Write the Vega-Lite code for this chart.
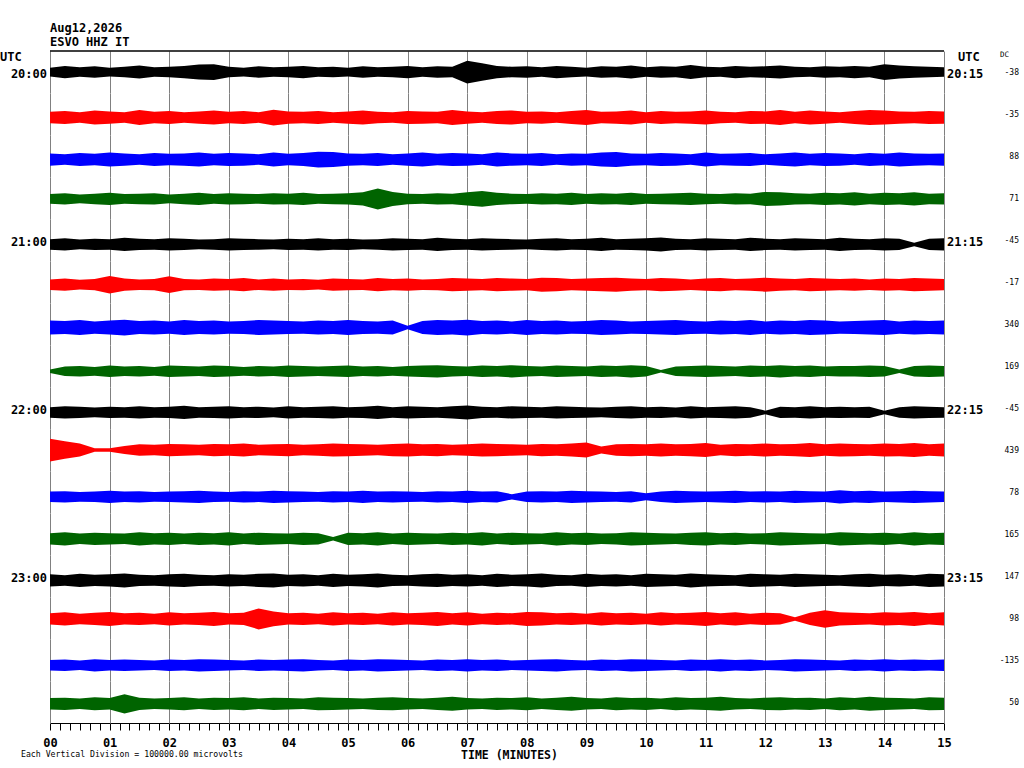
{
  "$schema": "https://vega.github.io/schema/vega-lite/v6.json",
  "padding": {"left": 0, "right": 4, "top": 22, "bottom": 0},
  "background": "white",
  "bounds": "flush",
  "title": {
    "text": "Aug12,2026",
    "subtitle": "ESVO HHZ IT",
    "anchor": "start",
    "dx": 50,
    "offset": 1,
    "font": "DejaVu Sans Mono",
    "fontSize": 12,
    "fontWeight": "bold",
    "color": "black",
    "subtitleFont": "DejaVu Sans Mono",
    "subtitleFontSize": 12,
    "subtitleFontWeight": "bold",
    "subtitleColor": "black",
    "subtitlePadding": 2
  },
  "data": {
    "values": [
      {"k":0,"l":"20:00","r":"20:15","d":"-38","u":"UTC"},
      {"k":1,"d":"-35"},{"k":2,"d":"88"},{"k":3,"d":"71"},
      {"k":4,"l":"21:00","r":"21:15","d":"-45"},{"k":5,"d":"-17"},{"k":6,"d":"340"},{"k":7,"d":"169"},
      {"k":8,"l":"22:00","r":"22:15","d":"-45"},{"k":9,"d":"439"},{"k":10,"d":"78"},{"k":11,"d":"165"},
      {"k":12,"l":"23:00","r":"23:15","d":"147"},{"k":13,"d":"98"},{"k":14,"d":"-135"},
      {"k":15,"d":"50","e":"Each Vertical Division = 100000.00 microvolts"},
      {"k":0,"t":0,"v":10},{"k":0,"t":15,"v":14},{"k":0,"t":30,"v":11},{"k":0,"t":45,"v":13},{"k":0,"t":60,"v":10},{"k":0,"t":75,"v":12},{"k":0,"t":90,"v":15},{"k":0,"t":105,"v":11},{"k":0,"t":120,"v":12},{"k":0,"t":135,"v":14},{"k":0,"t":150,"v":17},{"k":0,"t":165,"v":18},{"k":0,"t":180,"v":12},{"k":0,"t":195,"v":10},{"k":0,"t":210,"v":13},{"k":0,"t":225,"v":11},{"k":0,"t":240,"v":12},{"k":0,"t":255,"v":14},{"k":0,"t":270,"v":11},{"k":0,"t":285,"v":12},{"k":0,"t":300,"v":10},{"k":0,"t":315,"v":13},{"k":0,"t":330,"v":11},{"k":0,"t":345,"v":12},{"k":0,"t":360,"v":14},{"k":0,"t":375,"v":11},{"k":0,"t":390,"v":13},{"k":0,"t":405,"v":12},{"k":0,"t":420,"v":26},{"k":0,"t":435,"v":20},{"k":0,"t":450,"v":14},{"k":0,"t":465,"v":12},{"k":0,"t":480,"v":13},{"k":0,"t":495,"v":11},{"k":0,"t":510,"v":14},{"k":0,"t":525,"v":12},{"k":0,"t":540,"v":10},{"k":0,"t":555,"v":13},{"k":0,"t":570,"v":12},{"k":0,"t":585,"v":15},{"k":0,"t":600,"v":11},{"k":0,"t":615,"v":13},{"k":0,"t":630,"v":12},{"k":0,"t":645,"v":16},{"k":0,"t":660,"v":12},{"k":0,"t":675,"v":11},{"k":0,"t":690,"v":14},{"k":0,"t":705,"v":12},{"k":0,"t":720,"v":13},{"k":0,"t":735,"v":15},{"k":0,"t":750,"v":12},{"k":0,"t":765,"v":11},{"k":0,"t":780,"v":13},{"k":0,"t":795,"v":12},{"k":0,"t":810,"v":14},{"k":0,"t":825,"v":12},{"k":0,"t":840,"v":18},{"k":0,"t":855,"v":15},{"k":0,"t":870,"v":13},{"k":0,"t":885,"v":12},{"k":0,"t":900,"v":11},
      {"k":1,"t":0,"v":13},{"k":1,"t":15,"v":15},{"k":1,"t":30,"v":12},{"k":1,"t":45,"v":16},{"k":1,"t":60,"v":14},{"k":1,"t":75,"v":12},{"k":1,"t":90,"v":17},{"k":1,"t":105,"v":13},{"k":1,"t":120,"v":15},{"k":1,"t":135,"v":12},{"k":1,"t":150,"v":14},{"k":1,"t":165,"v":16},{"k":1,"t":180,"v":13},{"k":1,"t":195,"v":15},{"k":1,"t":210,"v":12},{"k":1,"t":225,"v":18},{"k":1,"t":240,"v":14},{"k":1,"t":255,"v":13},{"k":1,"t":270,"v":15},{"k":1,"t":285,"v":12},{"k":1,"t":300,"v":14},{"k":1,"t":315,"v":16},{"k":1,"t":330,"v":13},{"k":1,"t":345,"v":12},{"k":1,"t":360,"v":15},{"k":1,"t":375,"v":14},{"k":1,"t":390,"v":13},{"k":1,"t":405,"v":17},{"k":1,"t":420,"v":14},{"k":1,"t":435,"v":12},{"k":1,"t":450,"v":15},{"k":1,"t":465,"v":16},{"k":1,"t":480,"v":13},{"k":1,"t":495,"v":14},{"k":1,"t":510,"v":12},{"k":1,"t":525,"v":15},{"k":1,"t":540,"v":17},{"k":1,"t":555,"v":13},{"k":1,"t":570,"v":14},{"k":1,"t":585,"v":16},{"k":1,"t":600,"v":12},{"k":1,"t":615,"v":15},{"k":1,"t":630,"v":13},{"k":1,"t":645,"v":14},{"k":1,"t":660,"v":16},{"k":1,"t":675,"v":13},{"k":1,"t":690,"v":12},{"k":1,"t":705,"v":15},{"k":1,"t":720,"v":14},{"k":1,"t":735,"v":17},{"k":1,"t":750,"v":13},{"k":1,"t":765,"v":16},{"k":1,"t":780,"v":14},{"k":1,"t":795,"v":12},{"k":1,"t":810,"v":15},{"k":1,"t":825,"v":17},{"k":1,"t":840,"v":16},{"k":1,"t":855,"v":14},{"k":1,"t":870,"v":13},{"k":1,"t":885,"v":15},{"k":1,"t":900,"v":14},
      {"k":2,"t":0,"v":14},{"k":2,"t":15,"v":12},{"k":2,"t":30,"v":15},{"k":2,"t":45,"v":13},{"k":2,"t":60,"v":16},{"k":2,"t":75,"v":14},{"k":2,"t":90,"v":12},{"k":2,"t":105,"v":15},{"k":2,"t":120,"v":13},{"k":2,"t":135,"v":14},{"k":2,"t":150,"v":16},{"k":2,"t":165,"v":13},{"k":2,"t":180,"v":15},{"k":2,"t":195,"v":14},{"k":2,"t":210,"v":12},{"k":2,"t":225,"v":16},{"k":2,"t":240,"v":13},{"k":2,"t":255,"v":15},{"k":2,"t":270,"v":18},{"k":2,"t":285,"v":17},{"k":2,"t":300,"v":14},{"k":2,"t":315,"v":13},{"k":2,"t":330,"v":15},{"k":2,"t":345,"v":12},{"k":2,"t":360,"v":14},{"k":2,"t":375,"v":16},{"k":2,"t":390,"v":13},{"k":2,"t":405,"v":15},{"k":2,"t":420,"v":14},{"k":2,"t":435,"v":12},{"k":2,"t":450,"v":16},{"k":2,"t":465,"v":14},{"k":2,"t":480,"v":13},{"k":2,"t":495,"v":15},{"k":2,"t":510,"v":12},{"k":2,"t":525,"v":14},{"k":2,"t":540,"v":13},{"k":2,"t":555,"v":16},{"k":2,"t":570,"v":17},{"k":2,"t":585,"v":14},{"k":2,"t":600,"v":13},{"k":2,"t":615,"v":15},{"k":2,"t":630,"v":14},{"k":2,"t":645,"v":12},{"k":2,"t":660,"v":16},{"k":2,"t":675,"v":13},{"k":2,"t":690,"v":14},{"k":2,"t":705,"v":15},{"k":2,"t":720,"v":12},{"k":2,"t":735,"v":14},{"k":2,"t":750,"v":16},{"k":2,"t":765,"v":13},{"k":2,"t":780,"v":15},{"k":2,"t":795,"v":14},{"k":2,"t":810,"v":12},{"k":2,"t":825,"v":15},{"k":2,"t":840,"v":13},{"k":2,"t":855,"v":16},{"k":2,"t":870,"v":14},{"k":2,"t":885,"v":13},{"k":2,"t":900,"v":14},
      {"k":3,"t":0,"v":11},{"k":3,"t":15,"v":13},{"k":3,"t":30,"v":10},{"k":3,"t":45,"v":12},{"k":3,"t":60,"v":14},{"k":3,"t":75,"v":11},{"k":3,"t":90,"v":12},{"k":3,"t":105,"v":13},{"k":3,"t":120,"v":10},{"k":3,"t":135,"v":12},{"k":3,"t":150,"v":14},{"k":3,"t":165,"v":11},{"k":3,"t":180,"v":13},{"k":3,"t":195,"v":12},{"k":3,"t":210,"v":11},{"k":3,"t":225,"v":13},{"k":3,"t":240,"v":12},{"k":3,"t":255,"v":14},{"k":3,"t":270,"v":11},{"k":3,"t":285,"v":12},{"k":3,"t":300,"v":13},{"k":3,"t":315,"v":15},{"k":3,"t":330,"v":24},{"k":3,"t":345,"v":16},{"k":3,"t":360,"v":12},{"k":3,"t":375,"v":11},{"k":3,"t":390,"v":13},{"k":3,"t":405,"v":12},{"k":3,"t":420,"v":15},{"k":3,"t":435,"v":18},{"k":3,"t":450,"v":14},{"k":3,"t":465,"v":12},{"k":3,"t":480,"v":11},{"k":3,"t":495,"v":13},{"k":3,"t":510,"v":12},{"k":3,"t":525,"v":14},{"k":3,"t":540,"v":11},{"k":3,"t":555,"v":13},{"k":3,"t":570,"v":12},{"k":3,"t":585,"v":14},{"k":3,"t":600,"v":11},{"k":3,"t":615,"v":12},{"k":3,"t":630,"v":13},{"k":3,"t":645,"v":14},{"k":3,"t":660,"v":12},{"k":3,"t":675,"v":11},{"k":3,"t":690,"v":13},{"k":3,"t":705,"v":12},{"k":3,"t":720,"v":16},{"k":3,"t":735,"v":15},{"k":3,"t":750,"v":13},{"k":3,"t":765,"v":12},{"k":3,"t":780,"v":14},{"k":3,"t":795,"v":13},{"k":3,"t":810,"v":15},{"k":3,"t":825,"v":12},{"k":3,"t":840,"v":14},{"k":3,"t":855,"v":13},{"k":3,"t":870,"v":15},{"k":3,"t":885,"v":12},{"k":3,"t":900,"v":13},
      {"k":4,"t":0,"v":12},{"k":4,"t":15,"v":14},{"k":4,"t":30,"v":11},{"k":4,"t":45,"v":13},{"k":4,"t":60,"v":12},{"k":4,"t":75,"v":15},{"k":4,"t":90,"v":13},{"k":4,"t":105,"v":12},{"k":4,"t":120,"v":14},{"k":4,"t":135,"v":13},{"k":4,"t":150,"v":11},{"k":4,"t":165,"v":12},{"k":4,"t":180,"v":14},{"k":4,"t":195,"v":13},{"k":4,"t":210,"v":12},{"k":4,"t":225,"v":11},{"k":4,"t":240,"v":13},{"k":4,"t":255,"v":12},{"k":4,"t":270,"v":14},{"k":4,"t":285,"v":12},{"k":4,"t":300,"v":13},{"k":4,"t":315,"v":11},{"k":4,"t":330,"v":12},{"k":4,"t":345,"v":14},{"k":4,"t":360,"v":13},{"k":4,"t":375,"v":12},{"k":4,"t":390,"v":15},{"k":4,"t":405,"v":13},{"k":4,"t":420,"v":12},{"k":4,"t":435,"v":14},{"k":4,"t":450,"v":13},{"k":4,"t":465,"v":12},{"k":4,"t":480,"v":11},{"k":4,"t":495,"v":13},{"k":4,"t":510,"v":14},{"k":4,"t":525,"v":12},{"k":4,"t":540,"v":13},{"k":4,"t":555,"v":15},{"k":4,"t":570,"v":12},{"k":4,"t":585,"v":13},{"k":4,"t":600,"v":14},{"k":4,"t":615,"v":16},{"k":4,"t":630,"v":13},{"k":4,"t":645,"v":12},{"k":4,"t":660,"v":14},{"k":4,"t":675,"v":13},{"k":4,"t":690,"v":12},{"k":4,"t":705,"v":15},{"k":4,"t":720,"v":13},{"k":4,"t":735,"v":12},{"k":4,"t":750,"v":14},{"k":4,"t":765,"v":13},{"k":4,"t":780,"v":12},{"k":4,"t":795,"v":15},{"k":4,"t":810,"v":13},{"k":4,"t":825,"v":12},{"k":4,"t":840,"v":14},{"k":4,"t":855,"v":13},{"k":4,"t":870,"v":4},{"k":4,"t":885,"v":13},{"k":4,"t":900,"v":14},
      {"k":5,"t":0,"v":12},{"k":5,"t":15,"v":14},{"k":5,"t":30,"v":11},{"k":5,"t":45,"v":13},{"k":5,"t":60,"v":20},{"k":5,"t":75,"v":14},{"k":5,"t":90,"v":12},{"k":5,"t":105,"v":13},{"k":5,"t":120,"v":19},{"k":5,"t":135,"v":13},{"k":5,"t":150,"v":12},{"k":5,"t":165,"v":14},{"k":5,"t":180,"v":13},{"k":5,"t":195,"v":15},{"k":5,"t":210,"v":12},{"k":5,"t":225,"v":14},{"k":5,"t":240,"v":12},{"k":5,"t":255,"v":13},{"k":5,"t":270,"v":11},{"k":5,"t":285,"v":14},{"k":5,"t":300,"v":13},{"k":5,"t":315,"v":12},{"k":5,"t":330,"v":15},{"k":5,"t":345,"v":13},{"k":5,"t":360,"v":14},{"k":5,"t":375,"v":12},{"k":5,"t":390,"v":13},{"k":5,"t":405,"v":15},{"k":5,"t":420,"v":14},{"k":5,"t":435,"v":13},{"k":5,"t":450,"v":15},{"k":5,"t":465,"v":14},{"k":5,"t":480,"v":13},{"k":5,"t":495,"v":16},{"k":5,"t":510,"v":15},{"k":5,"t":525,"v":13},{"k":5,"t":540,"v":14},{"k":5,"t":555,"v":15},{"k":5,"t":570,"v":16},{"k":5,"t":585,"v":14},{"k":5,"t":600,"v":13},{"k":5,"t":615,"v":15},{"k":5,"t":630,"v":14},{"k":5,"t":645,"v":12},{"k":5,"t":660,"v":14},{"k":5,"t":675,"v":15},{"k":5,"t":690,"v":13},{"k":5,"t":705,"v":14},{"k":5,"t":720,"v":16},{"k":5,"t":735,"v":14},{"k":5,"t":750,"v":13},{"k":5,"t":765,"v":15},{"k":5,"t":780,"v":14},{"k":5,"t":795,"v":13},{"k":5,"t":810,"v":14},{"k":5,"t":825,"v":12},{"k":5,"t":840,"v":14},{"k":5,"t":855,"v":13},{"k":5,"t":870,"v":15},{"k":5,"t":885,"v":14},{"k":5,"t":900,"v":13},
      {"k":6,"t":0,"v":16},{"k":6,"t":15,"v":15},{"k":6,"t":30,"v":17},{"k":6,"t":45,"v":14},{"k":6,"t":60,"v":16},{"k":6,"t":75,"v":18},{"k":6,"t":90,"v":15},{"k":6,"t":105,"v":16},{"k":6,"t":120,"v":14},{"k":6,"t":135,"v":17},{"k":6,"t":150,"v":15},{"k":6,"t":165,"v":16},{"k":6,"t":180,"v":14},{"k":6,"t":195,"v":15},{"k":6,"t":210,"v":17},{"k":6,"t":225,"v":16},{"k":6,"t":240,"v":15},{"k":6,"t":255,"v":14},{"k":6,"t":270,"v":16},{"k":6,"t":285,"v":15},{"k":6,"t":300,"v":17},{"k":6,"t":315,"v":15},{"k":6,"t":330,"v":14},{"k":6,"t":345,"v":16},{"k":6,"t":360,"v":4},{"k":6,"t":375,"v":15},{"k":6,"t":390,"v":17},{"k":6,"t":405,"v":16},{"k":6,"t":420,"v":18},{"k":6,"t":435,"v":15},{"k":6,"t":450,"v":16},{"k":6,"t":465,"v":14},{"k":6,"t":480,"v":17},{"k":6,"t":495,"v":15},{"k":6,"t":510,"v":16},{"k":6,"t":525,"v":14},{"k":6,"t":540,"v":15},{"k":6,"t":555,"v":17},{"k":6,"t":570,"v":16},{"k":6,"t":585,"v":14},{"k":6,"t":600,"v":15},{"k":6,"t":615,"v":16},{"k":6,"t":630,"v":17},{"k":6,"t":645,"v":15},{"k":6,"t":660,"v":14},{"k":6,"t":675,"v":16},{"k":6,"t":690,"v":15},{"k":6,"t":705,"v":17},{"k":6,"t":720,"v":14},{"k":6,"t":735,"v":16},{"k":6,"t":750,"v":15},{"k":6,"t":765,"v":17},{"k":6,"t":780,"v":16},{"k":6,"t":795,"v":14},{"k":6,"t":810,"v":15},{"k":6,"t":825,"v":16},{"k":6,"t":840,"v":17},{"k":6,"t":855,"v":14},{"k":6,"t":870,"v":16},{"k":6,"t":885,"v":15},{"k":6,"t":900,"v":16},
      {"k":7,"t":0,"v":4},{"k":7,"t":15,"v":11},{"k":7,"t":30,"v":12},{"k":7,"t":45,"v":10},{"k":7,"t":60,"v":13},{"k":7,"t":75,"v":11},{"k":7,"t":90,"v":12},{"k":7,"t":105,"v":10},{"k":7,"t":120,"v":13},{"k":7,"t":135,"v":12},{"k":7,"t":150,"v":11},{"k":7,"t":165,"v":13},{"k":7,"t":180,"v":12},{"k":7,"t":195,"v":10},{"k":7,"t":210,"v":12},{"k":7,"t":225,"v":11},{"k":7,"t":240,"v":13},{"k":7,"t":255,"v":12},{"k":7,"t":270,"v":11},{"k":7,"t":285,"v":12},{"k":7,"t":300,"v":13},{"k":7,"t":315,"v":11},{"k":7,"t":330,"v":12},{"k":7,"t":345,"v":10},{"k":7,"t":360,"v":12},{"k":7,"t":375,"v":13},{"k":7,"t":390,"v":14},{"k":7,"t":405,"v":12},{"k":7,"t":420,"v":11},{"k":7,"t":435,"v":13},{"k":7,"t":450,"v":12},{"k":7,"t":465,"v":14},{"k":7,"t":480,"v":12},{"k":7,"t":495,"v":11},{"k":7,"t":510,"v":13},{"k":7,"t":525,"v":12},{"k":7,"t":540,"v":11},{"k":7,"t":555,"v":13},{"k":7,"t":570,"v":12},{"k":7,"t":585,"v":14},{"k":7,"t":600,"v":12},{"k":7,"t":615,"v":3},{"k":7,"t":630,"v":11},{"k":7,"t":645,"v":12},{"k":7,"t":660,"v":13},{"k":7,"t":675,"v":12},{"k":7,"t":690,"v":11},{"k":7,"t":705,"v":13},{"k":7,"t":720,"v":12},{"k":7,"t":735,"v":14},{"k":7,"t":750,"v":12},{"k":7,"t":765,"v":13},{"k":7,"t":780,"v":11},{"k":7,"t":795,"v":12},{"k":7,"t":810,"v":12},{"k":7,"t":825,"v":13},{"k":7,"t":840,"v":12},{"k":7,"t":855,"v":4},{"k":7,"t":870,"v":12},{"k":7,"t":885,"v":13},{"k":7,"t":900,"v":12},
      {"k":8,"t":0,"v":12},{"k":8,"t":15,"v":14},{"k":8,"t":30,"v":13},{"k":8,"t":45,"v":11},{"k":8,"t":60,"v":13},{"k":8,"t":75,"v":12},{"k":8,"t":90,"v":14},{"k":8,"t":105,"v":12},{"k":8,"t":120,"v":13},{"k":8,"t":135,"v":15},{"k":8,"t":150,"v":12},{"k":8,"t":165,"v":13},{"k":8,"t":180,"v":14},{"k":8,"t":195,"v":12},{"k":8,"t":210,"v":13},{"k":8,"t":225,"v":11},{"k":8,"t":240,"v":14},{"k":8,"t":255,"v":12},{"k":8,"t":270,"v":13},{"k":8,"t":285,"v":14},{"k":8,"t":300,"v":12},{"k":8,"t":315,"v":13},{"k":8,"t":330,"v":15},{"k":8,"t":345,"v":12},{"k":8,"t":360,"v":14},{"k":8,"t":375,"v":13},{"k":8,"t":390,"v":12},{"k":8,"t":405,"v":14},{"k":8,"t":420,"v":16},{"k":8,"t":435,"v":13},{"k":8,"t":450,"v":12},{"k":8,"t":465,"v":14},{"k":8,"t":480,"v":13},{"k":8,"t":495,"v":12},{"k":8,"t":510,"v":14},{"k":8,"t":525,"v":13},{"k":8,"t":540,"v":12},{"k":8,"t":555,"v":11},{"k":8,"t":570,"v":13},{"k":8,"t":585,"v":14},{"k":8,"t":600,"v":12},{"k":8,"t":615,"v":13},{"k":8,"t":630,"v":11},{"k":8,"t":645,"v":14},{"k":8,"t":660,"v":12},{"k":8,"t":675,"v":13},{"k":8,"t":690,"v":14},{"k":8,"t":705,"v":12},{"k":8,"t":720,"v":4},{"k":8,"t":735,"v":13},{"k":8,"t":750,"v":12},{"k":8,"t":765,"v":14},{"k":8,"t":780,"v":12},{"k":8,"t":795,"v":13},{"k":8,"t":810,"v":12},{"k":8,"t":825,"v":13},{"k":8,"t":840,"v":4},{"k":8,"t":855,"v":12},{"k":8,"t":870,"v":14},{"k":8,"t":885,"v":13},{"k":8,"t":900,"v":12},
      {"k":9,"t":0,"v":26},{"k":9,"t":15,"v":20},{"k":9,"t":30,"v":15},{"k":9,"t":45,"v":4},{"k":9,"t":60,"v":4},{"k":9,"t":75,"v":9},{"k":9,"t":90,"v":13},{"k":9,"t":105,"v":12},{"k":9,"t":120,"v":14},{"k":9,"t":135,"v":13},{"k":9,"t":150,"v":12},{"k":9,"t":165,"v":14},{"k":9,"t":180,"v":13},{"k":9,"t":195,"v":15},{"k":9,"t":210,"v":12},{"k":9,"t":225,"v":13},{"k":9,"t":240,"v":14},{"k":9,"t":255,"v":12},{"k":9,"t":270,"v":13},{"k":9,"t":285,"v":15},{"k":9,"t":300,"v":14},{"k":9,"t":315,"v":13},{"k":9,"t":330,"v":12},{"k":9,"t":345,"v":14},{"k":9,"t":360,"v":15},{"k":9,"t":375,"v":13},{"k":9,"t":390,"v":14},{"k":9,"t":405,"v":12},{"k":9,"t":420,"v":13},{"k":9,"t":435,"v":15},{"k":9,"t":450,"v":14},{"k":9,"t":465,"v":13},{"k":9,"t":480,"v":12},{"k":9,"t":495,"v":14},{"k":9,"t":510,"v":13},{"k":9,"t":525,"v":15},{"k":9,"t":540,"v":17},{"k":9,"t":555,"v":8},{"k":9,"t":570,"v":13},{"k":9,"t":585,"v":14},{"k":9,"t":600,"v":13},{"k":9,"t":615,"v":15},{"k":9,"t":630,"v":13},{"k":9,"t":645,"v":14},{"k":9,"t":660,"v":16},{"k":9,"t":675,"v":12},{"k":9,"t":690,"v":14},{"k":9,"t":705,"v":13},{"k":9,"t":720,"v":15},{"k":9,"t":735,"v":13},{"k":9,"t":750,"v":14},{"k":9,"t":765,"v":16},{"k":9,"t":780,"v":13},{"k":9,"t":795,"v":15},{"k":9,"t":810,"v":14},{"k":9,"t":825,"v":13},{"k":9,"t":840,"v":15},{"k":9,"t":855,"v":14},{"k":9,"t":870,"v":16},{"k":9,"t":885,"v":13},{"k":9,"t":900,"v":15},
      {"k":10,"t":0,"v":12},{"k":10,"t":15,"v":13},{"k":10,"t":30,"v":11},{"k":10,"t":45,"v":12},{"k":10,"t":60,"v":14},{"k":10,"t":75,"v":12},{"k":10,"t":90,"v":13},{"k":10,"t":105,"v":11},{"k":10,"t":120,"v":12},{"k":10,"t":135,"v":13},{"k":10,"t":150,"v":14},{"k":10,"t":165,"v":12},{"k":10,"t":180,"v":11},{"k":10,"t":195,"v":13},{"k":10,"t":210,"v":12},{"k":10,"t":225,"v":14},{"k":10,"t":240,"v":13},{"k":10,"t":255,"v":12},{"k":10,"t":270,"v":11},{"k":10,"t":285,"v":13},{"k":10,"t":300,"v":12},{"k":10,"t":315,"v":14},{"k":10,"t":330,"v":12},{"k":10,"t":345,"v":13},{"k":10,"t":360,"v":12},{"k":10,"t":375,"v":11},{"k":10,"t":390,"v":13},{"k":10,"t":405,"v":12},{"k":10,"t":420,"v":14},{"k":10,"t":435,"v":12},{"k":10,"t":450,"v":13},{"k":10,"t":465,"v":6},{"k":10,"t":480,"v":12},{"k":10,"t":495,"v":13},{"k":10,"t":510,"v":12},{"k":10,"t":525,"v":14},{"k":10,"t":540,"v":13},{"k":10,"t":555,"v":12},{"k":10,"t":570,"v":11},{"k":10,"t":585,"v":13},{"k":10,"t":600,"v":8},{"k":10,"t":615,"v":12},{"k":10,"t":630,"v":14},{"k":10,"t":645,"v":13},{"k":10,"t":660,"v":12},{"k":10,"t":675,"v":13},{"k":10,"t":690,"v":14},{"k":10,"t":705,"v":12},{"k":10,"t":720,"v":13},{"k":10,"t":735,"v":12},{"k":10,"t":750,"v":14},{"k":10,"t":765,"v":13},{"k":10,"t":780,"v":12},{"k":10,"t":795,"v":15},{"k":10,"t":810,"v":13},{"k":10,"t":825,"v":14},{"k":10,"t":840,"v":12},{"k":10,"t":855,"v":13},{"k":10,"t":870,"v":14},{"k":10,"t":885,"v":13},{"k":10,"t":900,"v":12},
      {"k":11,"t":0,"v":13},{"k":11,"t":15,"v":15},{"k":11,"t":30,"v":12},{"k":11,"t":45,"v":14},{"k":11,"t":60,"v":13},{"k":11,"t":75,"v":12},{"k":11,"t":90,"v":15},{"k":11,"t":105,"v":13},{"k":11,"t":120,"v":14},{"k":11,"t":135,"v":12},{"k":11,"t":150,"v":14},{"k":11,"t":165,"v":13},{"k":11,"t":180,"v":15},{"k":11,"t":195,"v":12},{"k":11,"t":210,"v":14},{"k":11,"t":225,"v":13},{"k":11,"t":240,"v":12},{"k":11,"t":255,"v":14},{"k":11,"t":270,"v":13},{"k":11,"t":285,"v":4},{"k":11,"t":300,"v":14},{"k":11,"t":315,"v":13},{"k":11,"t":330,"v":15},{"k":11,"t":345,"v":12},{"k":11,"t":360,"v":14},{"k":11,"t":375,"v":13},{"k":11,"t":390,"v":12},{"k":11,"t":405,"v":14},{"k":11,"t":420,"v":13},{"k":11,"t":435,"v":15},{"k":11,"t":450,"v":12},{"k":11,"t":465,"v":14},{"k":11,"t":480,"v":13},{"k":11,"t":495,"v":12},{"k":11,"t":510,"v":15},{"k":11,"t":525,"v":13},{"k":11,"t":540,"v":14},{"k":11,"t":555,"v":12},{"k":11,"t":570,"v":13},{"k":11,"t":585,"v":15},{"k":11,"t":600,"v":14},{"k":11,"t":615,"v":13},{"k":11,"t":630,"v":12},{"k":11,"t":645,"v":14},{"k":11,"t":660,"v":15},{"k":11,"t":675,"v":13},{"k":11,"t":690,"v":14},{"k":11,"t":705,"v":12},{"k":11,"t":720,"v":13},{"k":11,"t":735,"v":15},{"k":11,"t":750,"v":14},{"k":11,"t":765,"v":13},{"k":11,"t":780,"v":12},{"k":11,"t":795,"v":15},{"k":11,"t":810,"v":14},{"k":11,"t":825,"v":13},{"k":11,"t":840,"v":14},{"k":11,"t":855,"v":12},{"k":11,"t":870,"v":15},{"k":11,"t":885,"v":13},{"k":11,"t":900,"v":14},
      {"k":12,"t":0,"v":14},{"k":12,"t":15,"v":12},{"k":12,"t":30,"v":15},{"k":12,"t":45,"v":13},{"k":12,"t":60,"v":14},{"k":12,"t":75,"v":16},{"k":12,"t":90,"v":13},{"k":12,"t":105,"v":12},{"k":12,"t":120,"v":14},{"k":12,"t":135,"v":15},{"k":12,"t":150,"v":13},{"k":12,"t":165,"v":12},{"k":12,"t":180,"v":14},{"k":12,"t":195,"v":13},{"k":12,"t":210,"v":15},{"k":12,"t":225,"v":16},{"k":12,"t":240,"v":13},{"k":12,"t":255,"v":14},{"k":12,"t":270,"v":12},{"k":12,"t":285,"v":15},{"k":12,"t":300,"v":13},{"k":12,"t":315,"v":14},{"k":12,"t":330,"v":16},{"k":12,"t":345,"v":13},{"k":12,"t":360,"v":12},{"k":12,"t":375,"v":14},{"k":12,"t":390,"v":15},{"k":12,"t":405,"v":13},{"k":12,"t":420,"v":14},{"k":12,"t":435,"v":12},{"k":12,"t":450,"v":15},{"k":12,"t":465,"v":13},{"k":12,"t":480,"v":14},{"k":12,"t":495,"v":16},{"k":12,"t":510,"v":13},{"k":12,"t":525,"v":12},{"k":12,"t":540,"v":15},{"k":12,"t":555,"v":13},{"k":12,"t":570,"v":14},{"k":12,"t":585,"v":12},{"k":12,"t":600,"v":15},{"k":12,"t":615,"v":14},{"k":12,"t":630,"v":13},{"k":12,"t":645,"v":16},{"k":12,"t":660,"v":14},{"k":12,"t":675,"v":13},{"k":12,"t":690,"v":12},{"k":12,"t":705,"v":15},{"k":12,"t":720,"v":14},{"k":12,"t":735,"v":13},{"k":12,"t":750,"v":15},{"k":12,"t":765,"v":14},{"k":12,"t":780,"v":13},{"k":12,"t":795,"v":12},{"k":12,"t":810,"v":14},{"k":12,"t":825,"v":15},{"k":12,"t":840,"v":13},{"k":12,"t":855,"v":14},{"k":12,"t":870,"v":12},{"k":12,"t":885,"v":15},{"k":12,"t":900,"v":14},
      {"k":13,"t":0,"v":13},{"k":13,"t":15,"v":15},{"k":13,"t":30,"v":12},{"k":13,"t":45,"v":14},{"k":13,"t":60,"v":16},{"k":13,"t":75,"v":13},{"k":13,"t":90,"v":14},{"k":13,"t":105,"v":12},{"k":13,"t":120,"v":15},{"k":13,"t":135,"v":13},{"k":13,"t":150,"v":14},{"k":13,"t":165,"v":16},{"k":13,"t":180,"v":13},{"k":13,"t":195,"v":14},{"k":13,"t":210,"v":24},{"k":13,"t":225,"v":17},{"k":13,"t":240,"v":13},{"k":13,"t":255,"v":14},{"k":13,"t":270,"v":12},{"k":13,"t":285,"v":15},{"k":13,"t":300,"v":13},{"k":13,"t":315,"v":14},{"k":13,"t":330,"v":12},{"k":13,"t":345,"v":15},{"k":13,"t":360,"v":13},{"k":13,"t":375,"v":14},{"k":13,"t":390,"v":16},{"k":13,"t":405,"v":13},{"k":13,"t":420,"v":15},{"k":13,"t":435,"v":12},{"k":13,"t":450,"v":14},{"k":13,"t":465,"v":13},{"k":13,"t":480,"v":16},{"k":13,"t":495,"v":15},{"k":13,"t":510,"v":13},{"k":13,"t":525,"v":14},{"k":13,"t":540,"v":12},{"k":13,"t":555,"v":15},{"k":13,"t":570,"v":13},{"k":13,"t":585,"v":14},{"k":13,"t":600,"v":12},{"k":13,"t":615,"v":15},{"k":13,"t":630,"v":13},{"k":13,"t":645,"v":14},{"k":13,"t":660,"v":16},{"k":13,"t":675,"v":13},{"k":13,"t":690,"v":15},{"k":13,"t":705,"v":12},{"k":13,"t":720,"v":14},{"k":13,"t":735,"v":13},{"k":13,"t":750,"v":4},{"k":13,"t":765,"v":14},{"k":13,"t":780,"v":20},{"k":13,"t":795,"v":15},{"k":13,"t":810,"v":14},{"k":13,"t":825,"v":13},{"k":13,"t":840,"v":15},{"k":13,"t":855,"v":14},{"k":13,"t":870,"v":16},{"k":13,"t":885,"v":13},{"k":13,"t":900,"v":15},
      {"k":14,"t":0,"v":12},{"k":14,"t":15,"v":13},{"k":14,"t":30,"v":11},{"k":14,"t":45,"v":14},{"k":14,"t":60,"v":12},{"k":14,"t":75,"v":13},{"k":14,"t":90,"v":12},{"k":14,"t":105,"v":11},{"k":14,"t":120,"v":13},{"k":14,"t":135,"v":12},{"k":14,"t":150,"v":14},{"k":14,"t":165,"v":13},{"k":14,"t":180,"v":12},{"k":14,"t":195,"v":11},{"k":14,"t":210,"v":13},{"k":14,"t":225,"v":12},{"k":14,"t":240,"v":13},{"k":14,"t":255,"v":14},{"k":14,"t":270,"v":12},{"k":14,"t":285,"v":11},{"k":14,"t":300,"v":13},{"k":14,"t":315,"v":12},{"k":14,"t":330,"v":14},{"k":14,"t":345,"v":13},{"k":14,"t":360,"v":12},{"k":14,"t":375,"v":11},{"k":14,"t":390,"v":13},{"k":14,"t":405,"v":12},{"k":14,"t":420,"v":14},{"k":14,"t":435,"v":12},{"k":14,"t":450,"v":13},{"k":14,"t":465,"v":11},{"k":14,"t":480,"v":12},{"k":14,"t":495,"v":13},{"k":14,"t":510,"v":14},{"k":14,"t":525,"v":12},{"k":14,"t":540,"v":11},{"k":14,"t":555,"v":13},{"k":14,"t":570,"v":12},{"k":14,"t":585,"v":14},{"k":14,"t":600,"v":13},{"k":14,"t":615,"v":12},{"k":14,"t":630,"v":11},{"k":14,"t":645,"v":13},{"k":14,"t":660,"v":12},{"k":14,"t":675,"v":14},{"k":14,"t":690,"v":12},{"k":14,"t":705,"v":13},{"k":14,"t":720,"v":11},{"k":14,"t":735,"v":12},{"k":14,"t":750,"v":14},{"k":14,"t":765,"v":13},{"k":14,"t":780,"v":12},{"k":14,"t":795,"v":11},{"k":14,"t":810,"v":13},{"k":14,"t":825,"v":12},{"k":14,"t":840,"v":14},{"k":14,"t":855,"v":12},{"k":14,"t":870,"v":13},{"k":14,"t":885,"v":12},{"k":14,"t":900,"v":13},
      {"k":15,"t":0,"v":13},{"k":15,"t":15,"v":14},{"k":15,"t":30,"v":12},{"k":15,"t":45,"v":15},{"k":15,"t":60,"v":13},{"k":15,"t":75,"v":22},{"k":15,"t":90,"v":14},{"k":15,"t":105,"v":12},{"k":15,"t":120,"v":13},{"k":15,"t":135,"v":15},{"k":15,"t":150,"v":12},{"k":15,"t":165,"v":14},{"k":15,"t":180,"v":13},{"k":15,"t":195,"v":15},{"k":15,"t":210,"v":12},{"k":15,"t":225,"v":14},{"k":15,"t":240,"v":13},{"k":15,"t":255,"v":12},{"k":15,"t":270,"v":15},{"k":15,"t":285,"v":14},{"k":15,"t":300,"v":13},{"k":15,"t":315,"v":12},{"k":15,"t":330,"v":14},{"k":15,"t":345,"v":15},{"k":15,"t":360,"v":13},{"k":15,"t":375,"v":12},{"k":15,"t":390,"v":14},{"k":15,"t":405,"v":16},{"k":15,"t":420,"v":13},{"k":15,"t":435,"v":12},{"k":15,"t":450,"v":14},{"k":15,"t":465,"v":13},{"k":15,"t":480,"v":15},{"k":15,"t":495,"v":12},{"k":15,"t":510,"v":14},{"k":15,"t":525,"v":16},{"k":15,"t":540,"v":13},{"k":15,"t":555,"v":12},{"k":15,"t":570,"v":15},{"k":15,"t":585,"v":13},{"k":15,"t":600,"v":14},{"k":15,"t":615,"v":12},{"k":15,"t":630,"v":15},{"k":15,"t":645,"v":13},{"k":15,"t":660,"v":14},{"k":15,"t":675,"v":16},{"k":15,"t":690,"v":13},{"k":15,"t":705,"v":12},{"k":15,"t":720,"v":14},{"k":15,"t":735,"v":15},{"k":15,"t":750,"v":13},{"k":15,"t":765,"v":14},{"k":15,"t":780,"v":12},{"k":15,"t":795,"v":15},{"k":15,"t":810,"v":13},{"k":15,"t":825,"v":16},{"k":15,"t":840,"v":14},{"k":15,"t":855,"v":13},{"k":15,"t":870,"v":12},{"k":15,"t":885,"v":15},{"k":15,"t":900,"v":14}
    ]
  },
  "facet": {
    "row": {
      "field": "k",
      "type": "ordinal",
      "title": null,
      "header": {
        "labelExpr": "''",
        "labelAngle": 0,
        "labelPadding": 0,
        "labelFontSize": 1
      }
    }
  },
  "spacing": 0,
  "spec": {
    "width": 894,
    "height": 42,
    "layer": [
      {
        "transform": [
          {"filter": "isValid(datum.t)"},
          {"stack": "v", "groupby": ["k", "t"], "offset": "center", "as": ["y0", "y1"]}
        ],
        "mark": {"type": "area", "interpolate": "linear"},
        "encoding": {
          "x": {
            "field": "t",
            "type": "quantitative",
            "scale": {"domain": [0, 900], "nice": false, "zero": false},
            "axis": {
              "values": [0,10,20,30,40,50,60,70,80,90,100,110,120,130,140,150,160,170,180,190,200,210,220,230,240,250,260,270,280,290,300,310,320,330,340,350,360,370,380,390,400,410,420,430,440,450,460,470,480,490,500,510,520,530,540,550,560,570,580,590,600,610,620,630,640,650,660,670,680,690,700,710,720,730,740,750,760,770,780,790,800,810,820,830,840,850,860,870,880,890,900],
              "tickCount": 100,
              "labelExpr": "datum.value % 60 == 0 ? (datum.value < 600 ? '0' : '') + (datum.value / 60) : ''",
              "labelFont": "DejaVu Sans Mono",
              "labelFontSize": 12,
              "labelFontWeight": "bold",
              "labelColor": "black",
              "labelPadding": 7,
              "labelOverlap": false,
              "labelBound": false,
              "labelFlush": false,
              "tickColor": "black",
              "tickSize": 7,
              "domainColor": "black",
              "grid": true,
              "gridColor": "#808080",
              "gridOpacity": {"condition": {"test": "datum.value % 60 == 0", "value": 1}, "value": 0},
              "title": "TIME (MINUTES)",
              "titleFont": "DejaVu Sans Mono",
              "titleFontSize": 11.5,
              "titleFontWeight": "bold",
              "titleColor": "black",
              "titlePadding": 1,
              "titleX": 459
            }
          },
          "y": {
            "field": "y0",
            "type": "quantitative",
            "scale": {"domain": [-11, 37], "nice": false, "zero": false},
            "axis": null
          },
          "y2": {"field": "y1"},
          "color": {
            "field": "k",
            "type": "nominal",
            "scale": {
              "domain": [0,1,2,3,4,5,6,7,8,9,10,11,12,13,14,15],
              "range": ["#000000","#ff0000","#0000ff","#006400","#000000","#ff0000","#0000ff","#006400","#000000","#ff0000","#0000ff","#006400","#000000","#ff0000","#0000ff","#006400"]
            },
            "legend": null
          }
        }
      },
      {
        "transform": [{"filter": "isValid(datum.u)"}],
        "mark": {"type": "rule", "color": "black", "strokeWidth": 1.5},
        "encoding": {
          "x": {"datum": 0, "type": "quantitative"},
          "x2": {"datum": 900},
          "y": {"datum": 37, "type": "quantitative"}
        }
      },
      {
        "transform": [{"filter": "isValid(datum.u)"}],
        "mark": {"type": "text", "align": "left", "baseline": "middle", "dx": -50, "font": "DejaVu Sans Mono", "fontSize": 12, "fontWeight": "bold", "color": "black"},
        "encoding": {
          "x": {"datum": 0, "type": "quantitative"},
          "y": {"datum": 29.6, "type": "quantitative"},
          "text": {"field": "u"}
        }
      },
      {
        "transform": [{"filter": "isValid(datum.u)"}],
        "mark": {"type": "text", "align": "left", "baseline": "middle", "dx": 14, "font": "DejaVu Sans Mono", "fontSize": 12, "fontWeight": "bold", "color": "black"},
        "encoding": {
          "x": {"datum": 900, "type": "quantitative"},
          "y": {"datum": 30.1, "type": "quantitative"},
          "text": {"field": "u"}
        }
      },
      {
        "transform": [{"filter": "isValid(datum.u)"}],
        "mark": {"type": "text", "align": "left", "baseline": "middle", "dx": 56, "font": "DejaVu Sans Mono", "fontSize": 7.5, "color": "black"},
        "encoding": {
          "x": {"datum": 900, "type": "quantitative"},
          "y": {"datum": 32.4, "type": "quantitative"},
          "text": {"value": "DC"}
        }
      },
      {
        "transform": [{"filter": "isValid(datum.l)"}],
        "mark": {"type": "text", "align": "right", "baseline": "middle", "dx": -3, "dy": 1.5, "font": "DejaVu Sans Mono", "fontSize": 12, "fontWeight": "bold", "color": "black"},
        "encoding": {
          "x": {"datum": 0, "type": "quantitative"},
          "y": {"datum": 13, "type": "quantitative"},
          "text": {"field": "l"}
        }
      },
      {
        "transform": [{"filter": "isValid(datum.r)"}],
        "mark": {"type": "text", "align": "left", "baseline": "middle", "dx": 3, "dy": 1.5, "font": "DejaVu Sans Mono", "fontSize": 12, "fontWeight": "bold", "color": "black"},
        "encoding": {
          "x": {"datum": 900, "type": "quantitative"},
          "y": {"datum": 13, "type": "quantitative"},
          "text": {"field": "r"}
        }
      },
      {
        "transform": [{"filter": "isValid(datum.d)"}],
        "mark": {"type": "text", "align": "right", "baseline": "middle", "dx": 75, "dy": 1, "font": "DejaVu Sans Mono", "fontSize": 8, "color": "black"},
        "encoding": {
          "x": {"datum": 900, "type": "quantitative"},
          "y": {"datum": 13, "type": "quantitative"},
          "text": {"field": "d"}
        }
      },
      {
        "transform": [{"filter": "isValid(datum.e)"}],
        "mark": {"type": "text", "align": "left", "baseline": "alphabetic", "dx": -29, "dy": 34, "font": "DejaVu Sans Mono", "fontSize": 8.2, "color": "black"},
        "encoding": {
          "x": {"datum": 0, "type": "quantitative"},
          "y": {"datum": -11, "type": "quantitative"},
          "text": {"field": "e"}
        }
      }
    ]
  },
  "config": {
    "view": {"stroke": null},
    "font": "DejaVu Sans Mono"
  }
}
